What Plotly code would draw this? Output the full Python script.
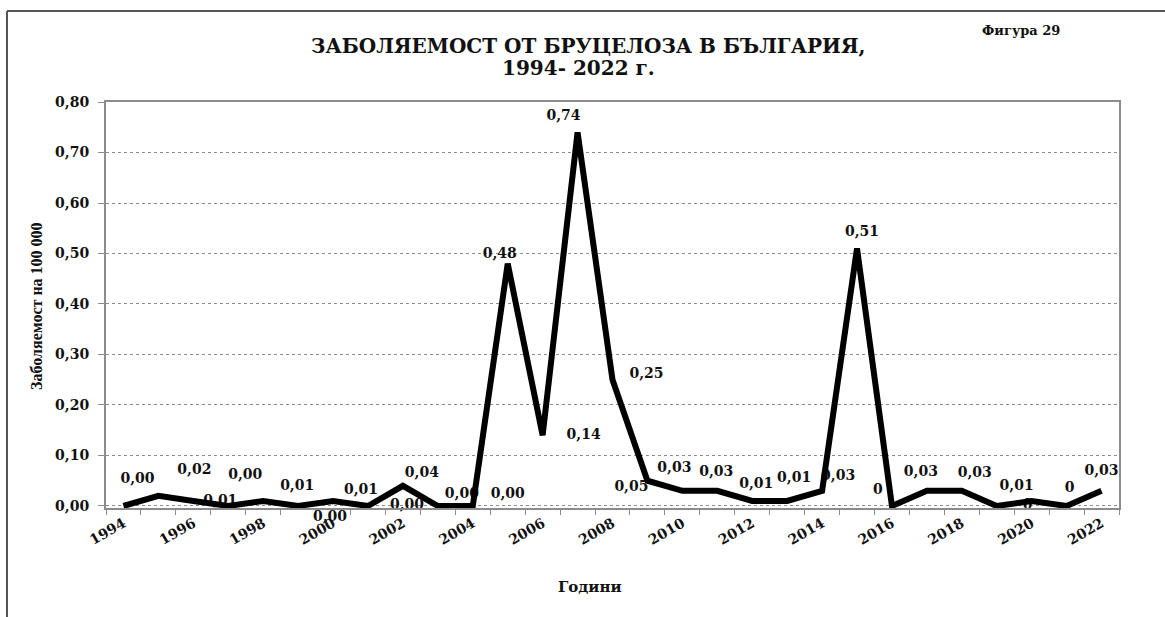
import plotly.graph_objects as go

# ---------------- data ----------------
years = list(range(1994, 2023))
values = [0.00, 0.02, 0.01, 0.00, 0.01, 0.00, 0.01, 0.00, 0.04, 0.00,
          0.00, 0.48, 0.14, 0.74, 0.25, 0.05, 0.03, 0.03, 0.01, 0.01,
          0.03, 0.51, 0.00, 0.03, 0.03, 0.00, 0.01, 0.00, 0.03]
value_labels = ["0,00", "0,02", "0,01", "0,00", "0,01", "0,00", "0,01", "0,00", "0,04", "0,00",
                "0,00", "0,48", "0,14", "0,74", "0,25", "0,05", "0,03", "0,03", "0,01", "0,01",
                "0,03", "0,51", "0", "0,03", "0,03", "0", "0,01", "0", "0,03"]
tick_years = list(range(1994, 2023, 2))
tick_year_text = [str(y) for y in tick_years]
y_ticks = [0.0, 0.1, 0.2, 0.3, 0.4, 0.5, 0.6, 0.7, 0.8]

title_line1 = "ЗАБОЛЯЕМОСТ ОТ БРУЦЕЛОЗА В БЪЛГАРИЯ,"
title_line2 = "1994- 2022 г."
figure_no = "Фигура 29"
y_title = "Заболяемост на 100 000"
x_title = "Години"

# label offsets in pixels (right / down) from each point
label_dx = [14, 36, 27, 17, 34, 32, 28, 39, 19, 24, 35, -8, 41, -14, 34, -16,
            -8, -1, 4, 7, 16, 5, -14, -6, 13, 31, -15, 3, 0]
label_dy = [-26, -25, 1, -30, -14, 10, -10, 0, -12, -11, -11, -9, 0, -16, -5, 7,
            -22, -18, -16, -22, -14, -16, -15, -18, -17, 0, -14, -17, -19]

# ---------------- layout geometry ----------------
W, H = 1165, 617
PL, PR, PT, PB = 106, 1119, 102, 508
x_range = [1993.5, 2022.5]
y_range = [-0.004, 0.8]
px_per_year = (PR - PL) / (x_range[1] - x_range[0])
px_per_unit = (PB - PT) / (y_range[1] - y_range[0])


def paper_x(p):
    return (p - PL) / (PR - PL)


def paper_y(q):
    return (PB - q) / (PB - PT)


SERIF_B = "DejaVu Serif"
GRAY = "#8c8c8c"
TXT = "#111111"
label_font = dict(family=SERIF_B, size=14, color=TXT, weight="bold")

# split labels: those inside the y range go into a text trace (under the line),
# those below the axis become annotations (Plotly hides out-of-range text points)
in_x, in_y, in_t = [], [], []
out_annots = []
for yr, v, t, dx, dy in zip(years, values, value_labels, label_dx, label_dy):
    ly = v - dy / px_per_unit
    if ly >= y_range[0]:
        in_x.append(yr + dx / px_per_year)
        in_y.append(ly)
        in_t.append(t)
    else:
        out_annots.append(dict(text=t, x=yr, y=v, xref="x", yref="y", showarrow=False,
                               xshift=dx, yshift=-dy, xanchor="center", yanchor="middle",
                               font=label_font))

fig = go.Figure()

fig.add_trace(go.Scatter(
    x=in_x, y=in_y, text=in_t, mode="text",
    textposition="middle center", textfont=label_font,
    cliponaxis=False, hoverinfo="skip", showlegend=False,
))

fig.add_trace(go.Scatter(
    x=years, y=values, mode="lines",
    line=dict(color="black", width=6),
    showlegend=False,
))

fig.update_layout(
    width=W, height=H, autosize=False,
    margin=dict(l=PL, r=W - PR, t=PT, b=H - PB, pad=0),
    paper_bgcolor="white", plot_bgcolor="white",
    separators=", ",
    showlegend=False,
)

fig.update_xaxes(
    range=x_range, tickmode="array", tickvals=tick_years, ticktext=tick_year_text,
    tickangle=-30, ticks="", showgrid=False, zeroline=False,
    showline=True, linecolor=GRAY, linewidth=2, mirror=True,
    tickfont=dict(family=SERIF_B, size=14, color=TXT, weight="bold"),
    minor=dict(tickvals=[x_range[0] + k for k in range(30)], ticks="outside",
               ticklen=5, tickcolor=GRAY, tickwidth=1, showgrid=False),
)

fig.update_yaxes(
    range=y_range, tickmode="array", tickvals=y_ticks, tickformat=".2f",
    ticks="outside", ticklen=6, tickcolor=GRAY, tickwidth=1,
    showgrid=True, gridcolor=GRAY, gridwidth=1, griddash="dot",
    zeroline=False, showline=True, linecolor=GRAY, linewidth=2, mirror=True,
    tickfont=dict(family=SERIF_B, size=14, color=TXT, weight="bold"),
    ticklabelstandoff=6,
)

annotations = [
    dict(text=title_line1, x=paper_x(588), y=paper_y(46), xref="paper", yref="paper",
         showarrow=False, xanchor="center", yanchor="middle",
         font=dict(family=SERIF_B, size=20, color=TXT, weight="bold")),
    dict(text=title_line2, x=paper_x(578), y=paper_y(68), xref="paper", yref="paper",
         showarrow=False, xanchor="center", yanchor="middle",
         font=dict(family=SERIF_B, size=20, color=TXT, weight="bold")),
    dict(text=figure_no, x=paper_x(1021), y=paper_y(30), xref="paper", yref="paper",
         showarrow=False, xanchor="center", yanchor="middle",
         font=dict(family=SERIF_B, size=13, color=TXT, weight="bold")),
    dict(text=y_title, x=paper_x(36), y=paper_y(306), xref="paper", yref="paper",
         showarrow=False, xanchor="center", yanchor="middle", textangle=-90,
         font=dict(family="Liberation Serif", size=16, color=TXT, weight="bold")),
    dict(text=x_title, x=paper_x(590), y=paper_y(587), xref="paper", yref="paper",
         showarrow=False, xanchor="center", yanchor="middle",
         font=dict(family=SERIF_B, size=15, color=TXT, weight="bold")),
] + out_annots
fig.update_layout(annotations=annotations)

# page frame (left and top border of the figure box)
frame_color = "#555555"
fig.add_shape(type="line", xref="paper", yref="paper",
              x0=paper_x(7), x1=paper_x(7), y0=paper_y(11), y1=paper_y(H + 5),
              line=dict(color=frame_color, width=2))
fig.add_shape(type="line", xref="paper", yref="paper",
              x0=paper_x(7), x1=paper_x(W + 5), y0=paper_y(11), y1=paper_y(11),
              line=dict(color=frame_color, width=2))

fig.write_html("out.html")
